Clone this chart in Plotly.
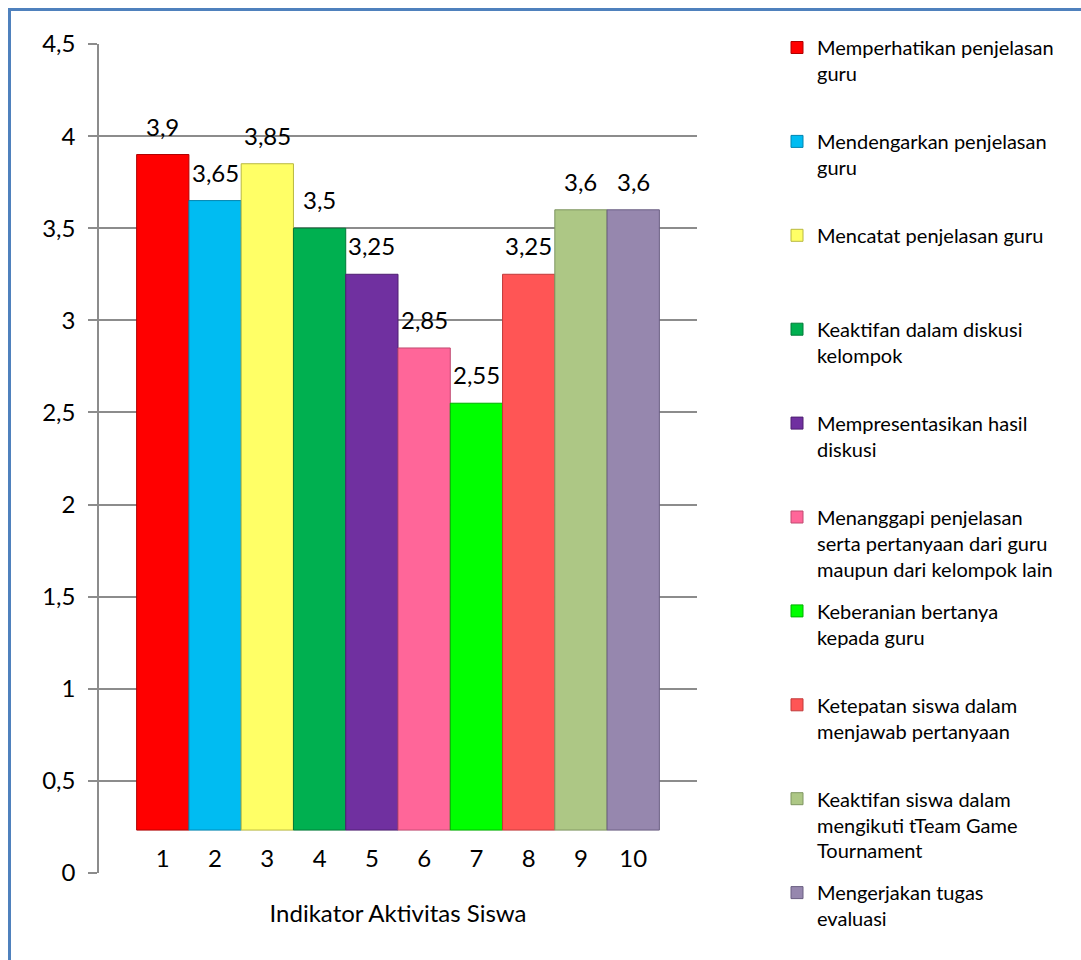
import plotly.graph_objects as go

# Indikator aktivitas siswa (1..10) dan skor rata-rata
indikator = [1, 2, 3, 4, 5, 6, 7, 8, 9, 10]
skor = [3.9, 3.65, 3.85, 3.5, 3.25, 2.85, 2.55, 3.25, 3.6, 3.6]
nama_indikator = [
    "Memperhatikan penjelasan<br>guru",
    "Mendengarkan penjelasan<br>guru",
    "Mencatat penjelasan guru",
    "Keaktifan dalam diskusi<br>kelompok",
    "Mempresentasikan hasil<br>diskusi",
    "Menanggapi penjelasan<br>serta pertanyaan dari guru<br>maupun dari kelompok lain",
    "Keberanian bertanya<br>kepada guru",
    "Ketepatan siswa dalam<br>menjawab pertanyaan",
    "Keaktifan siswa dalam<br>mengikuti tTeam Game<br>Tournament",
    "Mengerjakan tugas<br>evaluasi",
]
warna = ["#FF0000", "#00BCF2", "#FFFF66", "#00B050", "#7030A0",
         "#FF6699", "#00FF00", "#FF5555", "#ADC785", "#9687AE"]
warna_tepi = ["#B00000", "#0085B0", "#B8B840", "#007A38", "#4E1F70",
              "#C04A70", "#00B000", "#C03A3A", "#7E9560", "#6A5E82"]

FONT = "Lato"
GRID = "#8C8C8C"
FLOOR = 0.233  # bars stand on the chart floor

W, H = 1081, 960
ML, MR, MT, MB = 99, 384, 44, 87
PW, PH = W - ML - MR, H - MT - MB


def px_to_paper_x(px):
    return (px - ML) / PW


def px_to_paper_y(py):
    return (H - MB - py) / PH


fig = go.Figure()

for i, (x, v, name, c, ct) in enumerate(zip(indikator, skor, nama_indikator, warna, warna_tepi)):
    fig.add_trace(go.Bar(
        x=[x], y=[v - FLOOR], base=FLOOR, width=1.0,
        name=name,
        marker=dict(color=c, line=dict(color=ct, width=1)),
        legend="legend" if i == 0 else f"legend{i + 1}",
        hovertemplate=f"{x}: {v}<extra></extra>",
    ))
    fig.add_annotation(
        x=x, y=v, text=f"{v:g}".replace(".", ","),
        showarrow=False, yanchor="bottom", yshift=12,
        font=dict(family=FONT, size=24, color="#000000"),
    )

# one legend box per indicator, evenly spaced down the right side
legend_layout = {}
first_top_px, step_px = 28, 93.9
for i in range(len(indikator)):
    key = "legend" if i == 0 else f"legend{i + 1}"
    legend_layout[key] = dict(
        x=px_to_paper_x(777), xanchor="left",
        y=px_to_paper_y(first_top_px + i * step_px), yanchor="top",
        valign="top", bgcolor="rgba(0,0,0,0)", borderwidth=0,
        font=dict(family=FONT, size=20, color="#000000"),
        itemclick=False, itemdoubleclick=False,
    )

fig.update_layout(
    width=W, height=H,
    margin=dict(l=ML, r=MR, t=MT, b=MB),
    paper_bgcolor="white", plot_bgcolor="white",
    separators=",.",
    barmode="overlay",
    showlegend=True,
    font=dict(family=FONT, size=24, color="#000000"),
    **legend_layout,
)

# category labels sit on the chart floor, just under the bars
fig.update_xaxes(
    range=[-0.22, 11.22],
    tickvals=indikator, ticktext=[str(x) for x in indikator],
    anchor="free", position=px_to_paper_y(842),
    showgrid=False, zeroline=False, showline=False,
    ticks="",
    tickfont=dict(family=FONT, size=24),
    title=dict(text="Indikator Aktivitas Siswa", standoff=34,
               font=dict(family=FONT, size=24)),
)

fig.update_yaxes(
    range=[0, 4.5], dtick=0.5,
    showgrid=True, gridcolor=GRID, gridwidth=1.5,
    zeroline=False,
    showline=True, linecolor=GRID, linewidth=1.5,
    ticks="outside", ticklen=9, tickcolor=GRID, tickwidth=1.5,
    ticklabelstandoff=8,
    tickfont=dict(family=FONT, size=24),
)

# hide the floor-level gridline at 0
fig.add_shape(
    type="line", xref="paper", yref="y",
    x0=px_to_paper_x(ML + 1), x1=1, y0=0, y1=0,
    line=dict(color="white", width=3), layer="between",
)

# outer frame of the chart
fig.add_shape(
    type="rect", xref="paper", yref="paper",
    x0=px_to_paper_x(9.5), x1=px_to_paper_x(W + 20),
    y0=px_to_paper_y(H + 20), y1=px_to_paper_y(9.5),
    line=dict(color="#4F81BD", width=3), fillcolor="rgba(0,0,0,0)",
    layer="above",
)

fig.write_html("out.html")
